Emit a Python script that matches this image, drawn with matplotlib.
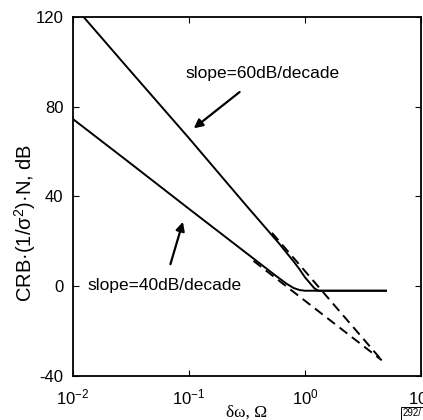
import matplotlib
matplotlib.use("Agg")
import matplotlib.pyplot as plt

plt.rcParams["font.family"] = ["Liberation Sans", "DejaVu Sans"]
plt.rcParams["mathtext.fontset"] = "custom"
plt.rcParams["mathtext.rm"] = "Liberation Sans"
plt.rcParams["mathtext.default"] = "regular"
plt.rcParams["axes.unicode_minus"] = False

# Data
# lower curve (40 dB/decade) - solid
x_low = [0.01, 0.03, 0.1, 0.3, 0.55, 0.7, 0.8, 0.9, 1.0, 5.0]
y_low = [74.5, 55.5, 34.5, 15.5, 5.0, 1.0, -0.8, -1.7, -2.0, -2.0]

# upper curve (60 dB/decade) - solid
x_up = [0.011, 0.03, 0.1, 0.3, 0.6, 0.8, 0.9, 1.0, 1.1, 1.2, 1.3, 5.0]
y_up = [123.0, 97.0, 66.0, 37.0, 19.0, 11.0, 7.5, 4.0, 1.5, -0.8, -2.0, -2.0]

# asymptotes - dashed
x_asym60 = [0.52, 4.6]
y_asym60 = [23.8, -33.0]
x_asym40 = [0.36, 4.6]
y_asym40 = [11.3, -33.0]

# axis ticks
x_ticks = [0.01, 0.1, 1, 10]
x_tick_labels = ["$10^{-2}$", "$10^{-1}$", "$10^{0}$", "$10^{1}$"]
y_ticks = [-40, 0, 40, 80, 120]

fig = plt.figure(figsize=(4.23, 4.2), dpi=100)
ax = fig.add_axes([0.1726, 0.1048, 0.8224, 0.8547])

ax.plot(x_low, y_low, color="black", lw=1.4)
ax.plot(x_up, y_up, color="black", lw=1.4)
ax.plot(x_asym60, y_asym60, color="black", lw=1.4, ls=(0, (5, 3)))
ax.plot(x_asym40, y_asym40, color="black", lw=1.4, ls=(0, (5, 3)))

ax.set_xscale("log")
ax.set_xlim(0.01, 10)
ax.set_ylim(-40, 120)
ax.set_xticks(x_ticks)
ax.set_xticklabels(x_tick_labels)
ax.minorticks_off()
ax.set_yticks(y_ticks)
ax.tick_params(direction="in", top=True, right=True, length=4,
               labelsize=12)
ax.tick_params(axis="x", pad=8)
ax.tick_params(axis="y", pad=7)
for s in ax.spines.values():
    s.set_linewidth(1.3)

ax.set_xlabel("δω, Ω", family="Liberation Serif", fontsize=12.5, labelpad=-2)
ax.set_ylabel("CRB·(1/σ$^2$)·N, dB", fontsize=14.5)
ax.yaxis.set_label_coords(-0.10, 0.426)

# annotations
ax.annotate("slope=60dB/decade", xy=(0.110, 70.4), xytext=(0.43, 94.6),
            fontsize=12.5, ha="center", va="center",
            arrowprops=dict(arrowstyle="-|>", color="black", lw=1.6,
                            mutation_scale=13, shrinkA=9, shrinkB=0))
ax.annotate("slope=40dB/decade", xy=(0.0887, 28.7), xytext=(0.0612, 0.5),
            fontsize=12.5, ha="center", va="center",
            arrowprops=dict(arrowstyle="-|>", color="black", lw=1.6,
                            mutation_scale=13, shrinkA=8, shrinkB=0))

# figure number box in corner
fig.text(0.952, 0.004, "292/", fontsize=7, ha="left", va="bottom",
         bbox=dict(boxstyle="square,pad=0.15", fc="white", ec="black", lw=0.7))

fig.savefig("out.png", dpi=100)
